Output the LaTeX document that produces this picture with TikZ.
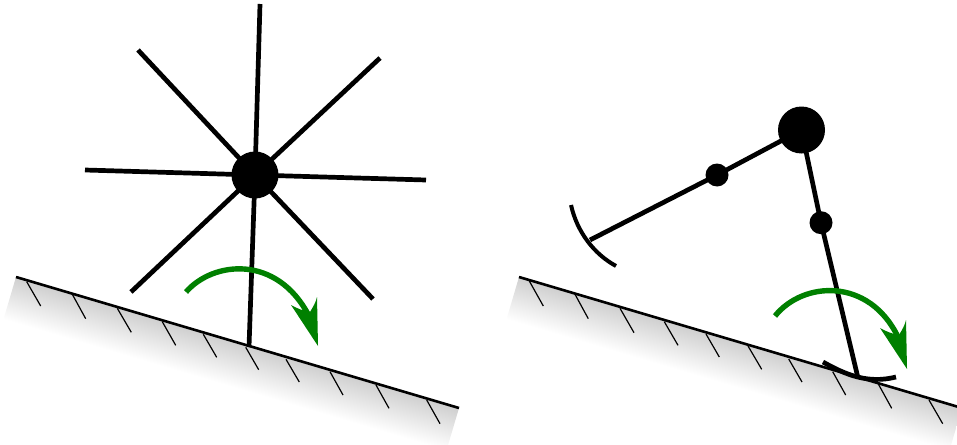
\documentclass[tikz,border=0pt]{standalone}
\usetikzlibrary{calc}
\definecolor{arcgreen}{RGB}{0,128,0}
\tikzset{
  rod/.style={line width=4.7pt,black},
  footarc/.style={line width=4.7pt,black},
  groundline/.style={line width=2.6pt,black},
  hatchline/.style={line width=1.2pt,black},
  hub/.style={circle,fill=black,inner sep=0pt,minimum size=47pt},
  joint/.style={circle,fill=black,inner sep=0pt,minimum size=23pt},
  turnarc/.style={line width=5.4pt,arcgreen},
  turnhead/.style={fill=arcgreen,draw=none},
}
\begin{document}
\begin{tikzpicture}[x=1pt,y=-1pt]
\useasboundingbox (0,0) rectangle (957,444);
\clip (0,0) rectangle (957,444);
% ---- ground wedges
\foreach \ox in {16,519}{
  \begin{scope}[transform canvas={shift={(\ox,277)},rotate=-16.47}]
    \shade[top color=black!19,bottom color=white] (0,0) rectangle (462,44);
  \end{scope}
}
% ---- left figure
\coordinate (la) at (16,277);
\coordinate (lb) at (459,408);
\foreach \a/\b/\c/\d in {26.7/281.7/40.7/306,72.3/294.3/85.7/318.7,117.3/308.3/131.3/332.3,162.3/321.7/175.7/345.3,203.3/334.3/216.7/357.3,245.7/347.3/258.7/369.7,286/359.3/299.3/382,330/371.7/343/395,376/385/389/408.3,426.7/400/440/423.7}{
  \draw[hatchline] (\a,\b) -- (\c,\d);
}
\draw[groundline] (la) -- (lb);
\node[hub] (h1) at (255,175) {};
\coordinate (s1a) at (260,4);   \coordinate (s1b) at (249,347);
\coordinate (s2a) at (85,170);  \coordinate (s2b) at (426,180);
\coordinate (s3a) at (138,50);  \coordinate (s3b) at (373,299);
\coordinate (s4a) at (380,58);  \coordinate (s4b) at (131,292);
\foreach \p in {s1a,s1b,s2a,s2b,s3a,s3b,s4a,s4b}{\draw[rod] (h1.center) -- (\p);}
\coordinate (g1s) at (186,292);
\coordinate (g1e) at (309,316);
\draw[turnarc] (g1s) .. controls (213,261) and (277,254) .. (g1e);
\fill[turnhead] (318,346) -- (291,305) .. controls (298,309) and (304,311) .. (310,312) .. controls (313,307) and (316,302) .. (317,297) -- cycle;
% ---- right figure
\coordinate (ra) at (519,277);
\coordinate (rb) at (962,408);
\foreach \a/\b/\c/\d in {529.3/281/543.3/306,575/294.3/588.3/318.7,620/308.3/634/332.7,664.3/321.7/678/345.3,706/334/719.3/357,748/346/761.7/369.3,788.7/359/802/382,832.7/371.7/845.7/395,878.3/384/891.7/408.3,929/400/942.7/423.7}{
  \draw[hatchline] (\a,\b) -- (\c,\d);
}
\draw[groundline] (ra) -- (rb);
\node[hub] (h2) at (801.5,130) {};
\node[joint] (j1) at (717,175) {};
\node[joint] (j2) at (821,222.7) {};
\coordinate (f1) at (590,240);
\coordinate (f2) at (858,378);
\draw[rod] (h2.center) -- (j1.center) -- (f1);
\draw[rod] (h2.center) -- (j2.center) -- (f2);
\coordinate (f1a) at (571,205);
\coordinate (f1b) at (616,266);
\draw[line width=4pt,black] (f1a) .. controls (577,232) and (594,254) .. (f1b);
\coordinate (f2a) at (823,362);
\coordinate (f2b) at (896,377);
\draw[footarc] (f2a) .. controls (846,375) and (868,384) .. (f2b);
\coordinate (g2s) at (775,316);
\coordinate (g2e) at (898,337);
\draw[turnarc] (g2s) .. controls (803,281) and (869,277) .. (g2e);
\fill[turnhead] (907,369) -- (880,328) .. controls (887,332) and (893,334) .. (899,335) .. controls (902,330) and (905,325) .. (906,320) -- cycle;
\end{tikzpicture}
\end{document}
